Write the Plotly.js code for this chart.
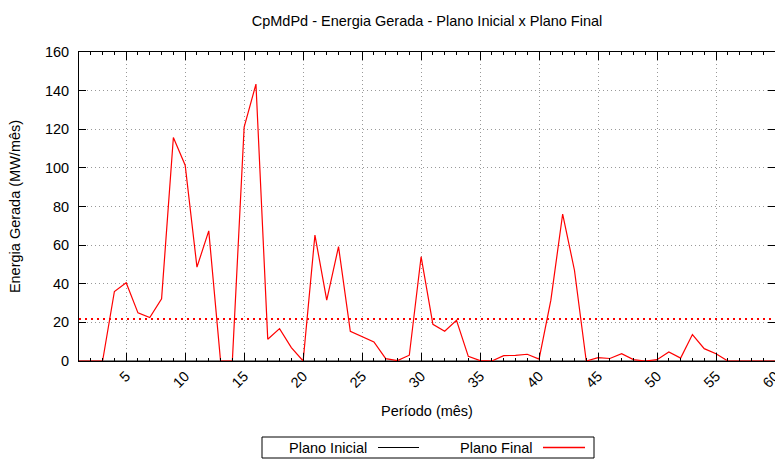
<!DOCTYPE html>
<html>
<head>
<meta charset="utf-8">
<script src="https://cdn.plot.ly/plotly-3.0.1.min.js"></script>
<style>html,body{margin:0;padding:0;background:#fff;}#chart{width:775px;height:466px;}</style>
</head>
<body>
<div id="chart"></div>
<script>
// Período (mês) 1..60
const periodos = [1,2,3,4,5,6,7,8,9,10,11,12,13,14,15,16,17,18,19,20,
  21,22,23,24,25,26,27,28,29,30,31,32,33,34,35,36,37,38,39,40,
  41,42,43,44,45,46,47,48,49,50,51,52,53,54,55,56,57,58,59,60];
const planoInicial = [0,0,0,0,0,0,0,0,0,0,0,0,0,0,0,0,0,0,0,0,
  0,0,0,0,0,0,0,0,0,0,0,0,0,0,0,0,0,0,0,0,
  0,0,0,0,0,0,0,0,0,0,0,0,0,0,0,0,0,0,0,0];
const planoFinal = [0,0,0,36,40.5,24.9,22.5,32.2,115.7,101.4,
  48.6,67.4,0,0,121.1,143.4,11.3,16.8,6.9,0,
  65.2,31.5,59.2,15.4,12.5,9.9,1.2,0.2,3.0,54.0,
  19.0,15.4,21.1,2.4,0.2,0,2.8,2.9,3.5,1.0,
  31.5,76.1,47.0,0,1.7,1.3,3.8,0.7,0,0.7,
  4.7,1.5,13.7,6.4,3.8,0,0,0,0,0];
const mediaFinal = [21.7, 21.7];
const mediaX = [1, 60];
const yTicks = [0,20,40,60,80,100,120,140,160];
const xTicks = [5,10,15,20,25,30,35,40,45,50,55,60];

const FONT = 'Liberation Sans, Arial, Helvetica, sans-serif';
const FS = 14.5;

const traces = [
  {x: periodos, y: planoInicial, type: 'scatter', mode: 'lines', name: 'Plano Inicial',
   line: {color: '#000000', width: 1}, showlegend: false},
  {x: periodos, y: planoFinal, type: 'scatter', mode: 'lines', name: 'Plano Final',
   line: {color: '#ff0000', width: 1.2}, showlegend: false},
  {x: mediaX, y: mediaFinal, type: 'scatter', mode: 'lines', name: 'Média',
   line: {color: '#ff0000', width: 2, dash: '2px,4px'}, showlegend: false}
];

const axisCommon = {
  showline: true, linecolor: '#000', linewidth: 1, mirror: 'ticks',
  ticks: 'inside', tickcolor: '#000', tickwidth: 1,
  showgrid: true, gridcolor: '#999999', griddash: '1px,3px', gridwidth: 1,
  zeroline: false, ticklabeloverflow: 'allow',
  tickfont: {family: FONT, size: FS, color: '#000'}
};

const legY = -(447.5-361)/309;

const layout = {
  width: 775, height: 466,
  margin: {l: 79, r: 0, t: 52, b: 105},
  paper_bgcolor: '#fff', plot_bgcolor: '#fff',
  font: {family: FONT, size: FS, color: '#000'},
  title: {text: 'CpMdPd - Energia Gerada - Plano Inicial x Plano Final',
          font: {family: FONT, size: FS, color: '#000'},
          x: 0.5, xref: 'paper', xanchor: 'center', y: 0.955, yanchor: 'middle'},
  xaxis: Object.assign({}, axisCommon, {
    range: [1, 60], tickmode: 'array', tickvals: xTicks, ticktext: xTicks.map(String),
    tickangle: -45, ticklen: 8,
    minor: {dtick: 1, tick0: 0, ticks: 'inside', ticklen: 3, tickcolor: '#000', showgrid: false},
    title: {text: 'Período (mês)', font: {family: FONT, size: FS, color: '#000'}, standoff: 16}
  }),
  yaxis: Object.assign({}, axisCommon, {
    range: [0, 160], tickmode: 'array', tickvals: yTicks, ticktext: yTicks.map(String),
    ticklen: 7, ticklabelstandoff: 6,
    title: {text: 'Energia Gerada (MW/mês)', font: {family: FONT, size: FS, color: '#000'}, standoff: 20}
  }),
  shapes: [
    {type: 'rect', xref: 'paper', yref: 'paper', x0: (262-79)/696, x1: (594-79)/696,
     y0: -(437-361)/309, y1: -(458-361)/309, line: {color: '#000', width: 1}},
    {type: 'line', xref: 'paper', yref: 'paper', x0: (378-79)/696, x1: (419-79)/696,
     y0: legY, y1: legY, line: {color: '#000', width: 1}},
    {type: 'line', xref: 'paper', yref: 'paper', x0: (543-79)/696, x1: (585-79)/696,
     y0: legY, y1: legY, line: {color: '#ff0000', width: 1.3}}
  ],
  annotations: [
    {text: 'Plano Inicial', xref: 'paper', yref: 'paper', x: (369-79)/696, y: legY,
     xanchor: 'right', yanchor: 'middle', showarrow: false, font: {family: FONT, size: FS, color: '#000'}},
    {text: 'Plano Final', xref: 'paper', yref: 'paper', x: (535-79)/696, y: legY,
     xanchor: 'right', yanchor: 'middle', showarrow: false, font: {family: FONT, size: FS, color: '#000'}}
  ],
  showlegend: false
};

Plotly.newPlot('chart', traces, layout, {displayModeBar: false, staticPlot: true});
</script>
</body>
</html>
